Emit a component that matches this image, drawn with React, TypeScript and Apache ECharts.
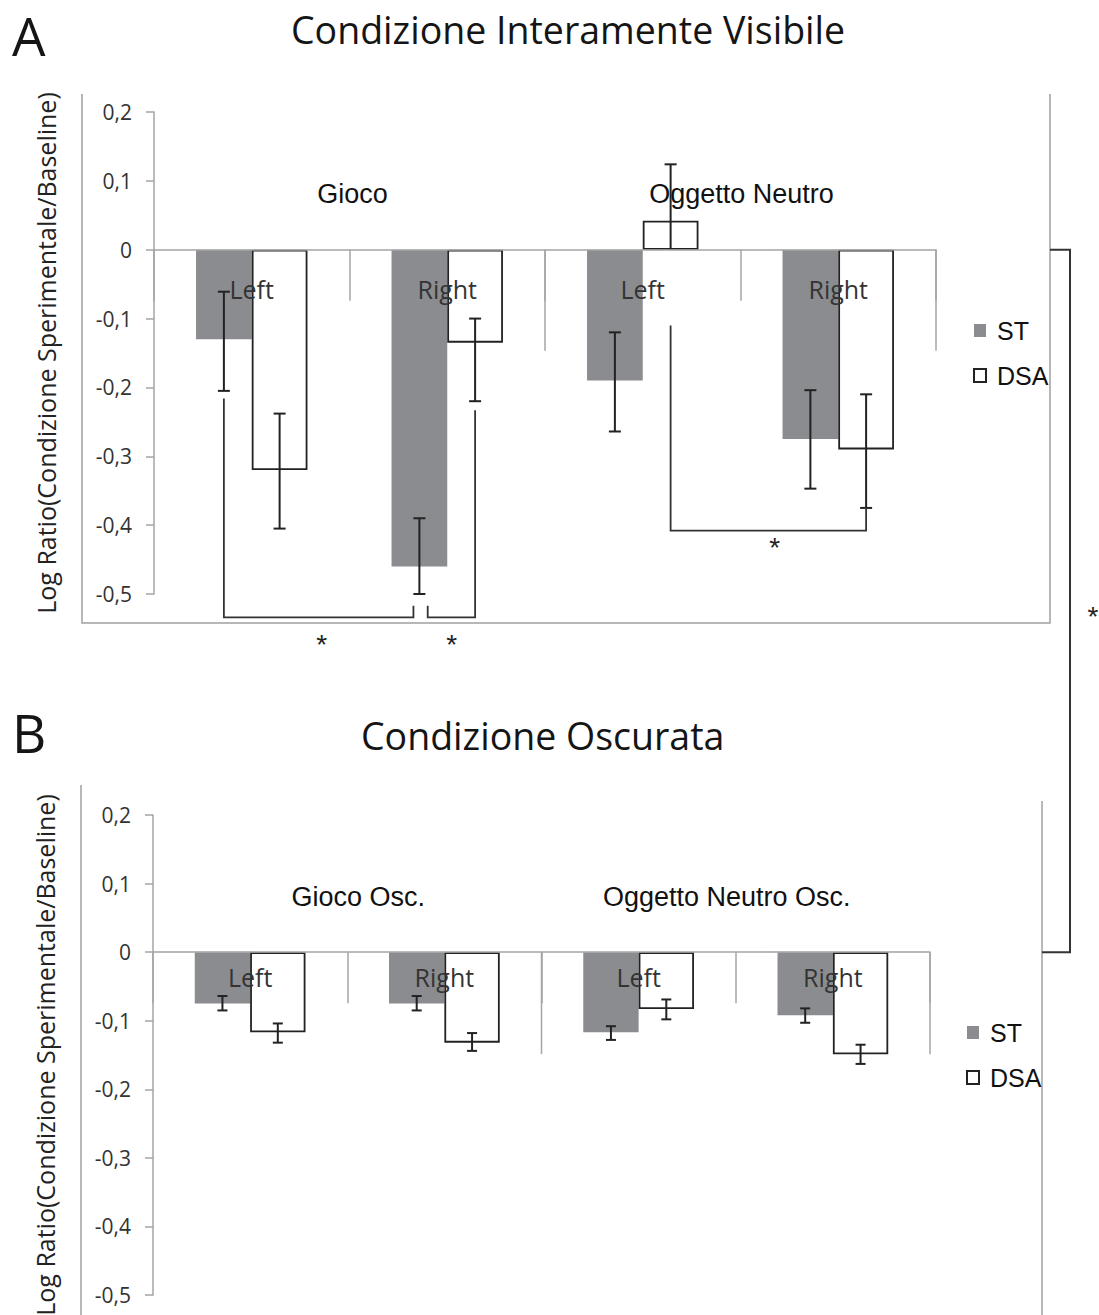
import React, { useEffect, useRef } from 'react';
import * as echarts from 'echarts';

// ---------- data ----------
const categories = ['Left', 'Right', 'Left', 'Right'];
const groupsA = ['Gioco', 'Oggetto Neutro'];
const groupsB = ['Gioco Osc.', 'Oggetto Neutro Osc.'];
const seriesNames = ['ST', 'DSA'];
const titleA = 'Condizione Interamente Visibile';
const titleB = 'Condizione Oscurata';
const yAxisName = 'Log Ratio(Condizione Sperimentale/Baseline)';

// Panel A (Condizione Interamente Visibile)
const stA = [-0.13, -0.46, -0.19, -0.275];
const dsaA = [-0.32, -0.135, 0.042, -0.29];
const stErrA = [[-0.205, -0.061], [-0.5, -0.39], [-0.264, -0.12], [-0.347, -0.204]];
const dsaErrA = [[-0.405, -0.238], [-0.22, -0.1], [0, 0.124], [-0.375, -0.21]];

// Panel B (Condizione Oscurata)
const stB = [-0.075, -0.075, -0.117, -0.092];
const dsaB = [-0.117, -0.132, -0.083, -0.149];
const stErrB = [[-0.085, -0.064], [-0.085, -0.064], [-0.128, -0.108], [-0.103, -0.082]];
const dsaErrB = [[-0.132, -0.104], [-0.144, -0.118], [-0.098, -0.069], [-0.163, -0.135]];

// significance brackets in panel A: points [categoryIndex, offset (in band widths), value]
const bracketsA = [
  { points: [[0, -0.1425, -0.216], [0, -0.1425, -0.534], [1, -0.173, -0.534], [1, -0.173, -0.517]], star: [0, 0.358, -0.569] },
  { points: [[1, -0.1, -0.517], [1, -0.1, -0.534], [1, 0.1425, -0.534], [1, 0.1425, -0.233]], star: [1, 0.023, -0.569] },
  { points: [[2, 0.1425, -0.11], [2, 0.1425, -0.408], [3, 0.1425, -0.408], [3, 0.1425, -0.374]], star: [3, -0.325, -0.428] },
];
// group boundaries (long separators): [categoryIndex, offset in band widths]
const groupEnds = [[1, 0.5], [3, 0.5]];

// ---------- style ----------
const FONT_UI = "'Open Sans', 'Noto Sans', sans-serif";
const FONT_ARIAL = "'Liberation Sans', Arial, sans-serif";
const GAP = 0.43;
const AXIS_GREY = '#a4a4a4';
const ST_COLOR = '#8b8c8f';
const INK = '#222';

const fmt = (v: number) => {
  const r = Math.round(v * 10) / 10;
  return r === 0 ? '0' : r.toFixed(1).replace('.', ',');
};

function yAxisCfg(gridIndex: number) {
  return {
    type: 'value', gridIndex, min: -0.5, max: 0.2, interval: 0.1,
    name: yAxisName, nameLocation: 'middle', nameGap: 96,
    nameTextStyle: { fontFamily: FONT_UI, fontSize: 25, color: '#222' },
    axisLine: { show: true, lineStyle: { color: AXIS_GREY, width: 1.5 } },
    axisTick: { show: true, length: 8, lineStyle: { color: AXIS_GREY, width: 1.5 } },
    axisLabel: { margin: 22, fontFamily: FONT_UI, fontSize: 21, color: '#333', formatter: fmt },
    splitLine: { show: false },
  };
}

function catAxisCfg(gridIndex: number) {
  return {
    type: 'category', gridIndex, data: categories, z: 10,
    axisLine: { onZero: true, lineStyle: { color: AXIS_GREY, width: 1.5 } },
    axisTick: { show: true, length: 51, interval: 0, alignWithLabel: false, lineStyle: { color: AXIS_GREY, width: 1.5 } },
    axisLabel: { show: false },
    splitLine: { show: false },
  };
}

function groupAxisCfg(gridIndex: number, groups: string[], pads: number[][]) {
  const rich: any = {};
  pads.forEach((p, i) => {
    rich['g' + i] = { fontFamily: FONT_ARIAL, fontSize: 27, color: '#111', padding: p };
  });
  return {
    type: 'category', gridIndex, position: 'top', data: groups, z: 10,
    axisLine: { show: false, onZero: false }, axisTick: { show: false },
    axisLabel: {
      inside: true, margin: 68, interval: 0, fontFamily: FONT_ARIAL, fontSize: 27, color: '#111',
      formatter: (v: string, i: number) => `{g${i}|${v}}`, rich,
    },
    splitLine: { show: false },
  };
}

function errData(st: number[][], dsa: number[][]) {
  const out: number[][] = [];
  for (let i = 0; i < st.length; i++) {
    out.push([i, st[i][0], st[i][1], -1]);
    out.push([i, dsa[i][0], dsa[i][1], 1]);
  }
  return out;
}

function errSeries(p: number, st: number[][], dsa: number[][], cap: number) {
  return {
    type: 'custom', xAxisIndex: 2 * p, yAxisIndex: p, z: 5, silent: true,
    data: errData(st, dsa),
    encode: { x: 0, y: [1, 2] },
    renderItem: (params: any, api: any) => {
      const cat = api.value(0), lo = api.value(1), hi = api.value(2), side = api.value(3);
      const band = api.size([1, 0])[0];
      const pl = api.coord([cat, lo]);
      const ph = api.coord([cat, hi]);
      const x = pl[0] + side * band * (1 - GAP) / 4;
      const st = { stroke: INK, lineWidth: 2 };
      const children: any[] = [
        { type: 'line', shape: { x1: x, y1: ph[1], x2: x, y2: pl[1] }, style: st },
      ];
      if (hi !== 0) children.push({ type: 'line', shape: { x1: x - cap, y1: ph[1], x2: x + cap, y2: ph[1] }, style: st });
      if (lo !== 0) children.push({ type: 'line', shape: { x1: x - cap, y1: pl[1], x2: x + cap, y2: pl[1] }, style: st });
      return { type: 'group', children };
    },
  };
}

function sepSeries(p: number, len: number) {
  return {
    type: 'custom', xAxisIndex: 2 * p, yAxisIndex: p, z: 11, silent: true,
    data: groupEnds.map((g) => [g[0], 0, g[1]]),
    renderItem: (params: any, api: any) => {
      const band = api.size([1, 0])[0];
      const c = api.coord([api.value(0), 0]);
      const x = c[0] + api.value(2) * band;
      return { type: 'line', shape: { x1: x, y1: c[1], x2: x, y2: c[1] + len }, style: { stroke: AXIS_GREY, lineWidth: 1.5 } };
    },
  };
}

function catLabelSeries(p: number, dy: number) {
  return {
    type: 'custom', xAxisIndex: 2 * p, yAxisIndex: p, z: 12, silent: true,
    data: categories.map((c, i) => [i, 0]),
    renderItem: (params: any, api: any) => {
      const c = api.coord([api.value(0), 0]);
      return {
        type: 'text',
        style: {
          text: categories[params.dataIndex], x: c[0], y: c[1] + dy, fill: '#333',
          font: "25px 'Open Sans'", align: 'center', verticalAlign: 'middle', textAlign: 'center', textVerticalAlign: 'middle',
        },
      };
    },
  };
}

const starStyle = { fill: INK, font: "28px 'Liberation Sans'", align: 'center', verticalAlign: 'middle', textAlign: 'center', textVerticalAlign: 'middle' };

function bracketSeries() {
  return {
    type: 'custom', xAxisIndex: 0, yAxisIndex: 0, z: 6, silent: true,
    data: bracketsA.map((b) => [b.points[0][0], b.points[0][2]]),
    renderItem: (params: any, api: any) => {
      const b = bracketsA[params.dataIndex];
      const band = api.size([1, 0])[0];
      const toPx = (p: number[]) => {
        const c = api.coord([p[0], p[2]]);
        return [c[0] + p[1] * band, c[1]];
      };
      const pts = b.points.map(toPx);
      const s = toPx(b.star);
      return {
        type: 'group', children: [
          { type: 'polyline', shape: { points: pts }, style: { stroke: '#333', lineWidth: 1.8, fill: 'none' } },
          { type: 'text', style: { ...starStyle, text: '*', x: s[0], y: s[1] + 3 } },
        ],
      };
    },
  };
}

function barSeries(p: number, st: number[], dsa: number[]) {
  return [
    { type: 'bar', name: seriesNames[0], xAxisIndex: 2 * p, yAxisIndex: p, data: st, barGap: '0%', barCategoryGap: '43%', z: 2,
      itemStyle: { color: ST_COLOR } },
    { type: 'bar', name: seriesNames[1], xAxisIndex: 2 * p, yAxisIndex: p, data: dsa, barGap: '0%', barCategoryGap: '43%', z: 3,
      itemStyle: { color: '#ffffff', borderColor: INK, borderWidth: 1.8 } },
  ];
}

function legendCfg(left: number, top: number) {
  return {
    data: seriesNames, orient: 'vertical', left, top, padding: 0,
    itemWidth: 12, itemHeight: 13, itemGap: 20, icon: 'rect', selectedMode: false,
    textStyle: { fontFamily: FONT_ARIAL, fontSize: 25, color: '#111', padding: [0, 0, 0, 6] },
  };
}

const titleStyle = (size: number) => ({ fontFamily: FONT_UI, fontSize: size, lineHeight: size, fontWeight: 'normal', color: '#151515' });

export default function App() {
  const ref = useRef<HTMLDivElement>(null);
  useEffect(() => {
    if (!ref.current) return;
    const chart = echarts.init(ref.current, undefined, { renderer: 'svg' });
    chart.setOption({
      animation: false,
      backgroundColor: '#ffffff',
      title: [
        { text: 'A', left: 12, top: 9, padding: 0, textStyle: titleStyle(53) },
        { text: titleA, left: 291, top: 11, padding: 0, textStyle: titleStyle(37.5) },
        { text: 'B', left: 12, top: 706, padding: 0, textStyle: titleStyle(53) },
        { text: titleB, left: 361, top: 717, padding: 0, textStyle: titleStyle(37.5) },
      ],
      legend: [legendCfg(973, 318), legendCfg(966, 1020)],
      grid: [
        { left: 154, top: 112, width: 782, height: 482, outerBoundsMode: 'none', containLabel: false },
        { left: 153, top: 815, width: 777, height: 480, outerBoundsMode: 'none', containLabel: false },
      ],
      xAxis: [
        catAxisCfg(0), groupAxisCfg(0, groupsA, [[0, 0, 0, 6], [0, 0, 0, 2]]),
        catAxisCfg(1), groupAxisCfg(1, groupsB, [[0, 0, 0, 22], [0, 18, 0, 0]]),
      ],
      yAxis: [yAxisCfg(0), yAxisCfg(1)],
      series: [
        ...barSeries(0, stA, dsaA),
        errSeries(0, stErrA, dsaErrA, 6),
        sepSeries(0, 101),
        catLabelSeries(0, 39),
        bracketSeries(),
        ...barSeries(1, stB, dsaB),
        errSeries(1, stErrB, dsaErrB, 5),
        sepSeries(1, 102),
        catLabelSeries(1, 25),
      ],
    });

    const yA = chart.convertToPixel({ yAxisIndex: 0 } as any, 0) as unknown as number;
    const yB = chart.convertToPixel({ yAxisIndex: 1 } as any, 0) as unknown as number;
    const frameStyle = { stroke: '#a0a0a0', lineWidth: 1.5, fill: 'none' };
    chart.setOption({
      graphic: [
        { type: 'polyline', silent: true, shape: { points: [[82, 94], [82, 623], [1050, 623], [1050, 94]] }, style: frameStyle },
        { type: 'line', silent: true, shape: { x1: 81, y1: 785, x2: 81, y2: 1315 }, style: frameStyle },
        { type: 'line', silent: true, shape: { x1: 1042, y1: 801, x2: 1042, y2: 1315 }, style: frameStyle },
        { type: 'polyline', silent: true, shape: { points: [[1050, yA], [1070, yA], [1070, yB], [1042, yB]] }, style: { stroke: '#333', lineWidth: 2, fill: 'none' } },
        { type: 'text', silent: true, x: 1093, y: 616, style: { ...starStyle, text: '*' } },
      ],
    });
    return () => chart.dispose();
  }, []);
  return (
    <div style={{ position: 'fixed', left: 0, top: 0, width: 1099, height: 1315, background: '#fff' }}>
      <div ref={ref} style={{ width: 1099, height: 1315 }} />
    </div>
  );
}
